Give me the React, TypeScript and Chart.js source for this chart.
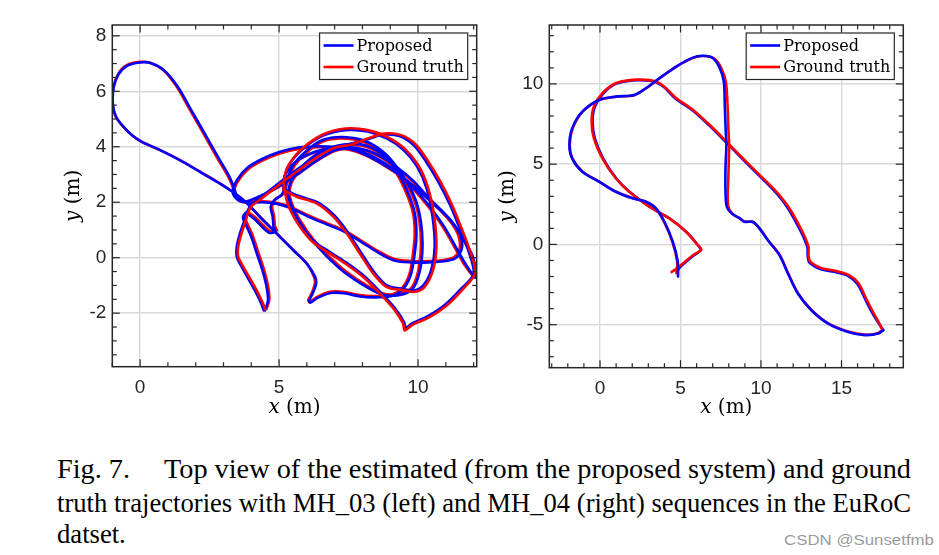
import React, { useEffect, useLayoutEffect, useRef } from 'react';
import { Chart, registerables } from 'chart.js';

Chart.register(...registerables);

type Pt = [number, number];

// ---------------- labels ----------------
const seriesLabels = ['Proposed', 'Ground truth'];
const seriesColors = ['#0000ff', '#ff0000'];
const xTitleLetter = 'x';
const yTitleLetter = 'y';
const unitText = ' (m)';
const captionLines = [
  'Fig. 7.\u2003\u2009Top view of the estimated (from the proposed system) and ground',
  'truth trajectories with MH_03 (left) and MH_04 (right) sequences in the EuRoC',
  'datset.',
];
const watermark = 'CSDN @Sunsetfmb';

// ---------------- MH_03 (left) ----------------
const leftXTicks = [0, 5, 10];
const leftYTicks = [-2, 0, 2, 4, 6, 8];

const leftTruthA: Pt[] = [
  [4.5,-1.85],[4.4,-1.6],[4.19,-1.17],[3.95,-0.74],[3.71,-0.32],[3.53,0.04],[3.53,0.4],[3.65,0.88],[3.77,1.24],[3.88,1.6],[4.0,1.85],
  [4.35,2.12],[4.9,2.55],[5.6,3.08],[6.3,3.58],[6.95,3.95],[7.6,4.08],
  [8.25,4.32],[8.8,4.48],[9.4,4.42],[9.9,4.1],[10.35,3.5],[10.8,2.75],[11.2,1.95],[11.55,1.1],[11.85,0.3],[12.05,-0.55],
  [11.6,-1.15],[11.0,-1.75],[10.4,-2.15],[9.8,-2.42],[9.52,-2.62],[9.46,-2.37],[9.16,-1.89],[8.68,-1.35],[8.08,-0.74],[7.37,-0.2],[6.75,0.2],[6.23,0.55],[5.75,1.12],[5.4,1.72],[5.22,2.3],[5.18,2.8],
  [5.35,3.35],[5.85,3.95],[6.6,4.45],[7.4,4.66],[8.2,4.6],[8.9,4.35],[9.5,3.95],[10.0,3.35],[10.35,2.55],[10.58,1.5],[10.66,0.4],[10.54,-0.44],[10.24,-1.05],[9.88,-1.23],[9.46,-1.17],[8.86,-1.05],[8.38,-0.56],[7.9,0.16],[7.43,0.88],[6.95,1.48],[6.35,1.96],[5.63,2.2],[5.15,2.44],
];
const leftProposedA: Pt[] = [
  [4.45,-1.9],[4.35,-1.63],[4.14,-1.2],[3.9,-0.77],[3.66,-0.34],[3.48,0.03],[3.48,0.41],[3.6,0.9],[3.73,1.27],[3.85,1.63],[3.97,1.88],
  [4.32,2.16],[4.88,2.6],[5.58,3.13],[6.28,3.62],[6.93,3.99],[7.58,4.11],
  [8.22,4.28],[8.76,4.44],[9.36,4.38],[9.85,4.05],[10.29,3.46],[10.74,2.72],[11.14,1.93],[11.49,1.08],[11.8,0.28],[12.0,-0.58],
  [11.56,-1.11],[10.97,-1.7],[10.37,-2.1],[9.8,-2.36],[9.56,-2.52],[9.5,-2.33],[9.2,-1.86],[8.72,-1.32],[8.12,-0.71],[7.41,-0.17],[6.79,0.23],[6.27,0.58],[5.79,1.15],[5.44,1.75],[5.26,2.32],[5.2,2.82],
  [5.33,3.3],[5.83,3.9],[6.58,4.4],[7.38,4.6],[8.18,4.55],[8.87,4.3],[9.46,3.9],[9.95,3.31],[10.3,2.52],[10.52,1.48],[10.6,0.4],[10.48,-0.42],[10.19,-1.0],[9.86,-1.18],[9.46,-1.13],[8.88,-1.0],[8.42,-0.52],[7.94,0.2],[7.47,0.92],[6.99,1.52],[6.38,2.0],[5.66,2.24],[5.17,2.48],
];
const leftTruthB: Pt[] = [
  [5.15,2.44],[5.2,2.95],[5.6,3.45],[6.3,3.8],[7.0,3.95],[7.8,3.92],[8.5,3.7],[9.2,3.25],[9.8,2.75],[10.3,2.2],[10.8,1.7],[11.2,1.25],[11.45,0.8],[11.5,0.35],[11.3,0.02],[10.95,-0.08],[10.35,-0.12],[9.75,-0.12],[9.15,-0.05],[8.55,0.25],[7.95,0.62],[7.35,0.98],[6.7,1.25],[6.0,1.55],[5.4,1.84],
  [4.9,1.98],[4.4,2.03],[3.9,2.02],[3.55,2.12],[3.38,2.38],[3.55,2.8],[3.9,3.2],[4.4,3.5],[5.0,3.75],[5.7,3.92],[6.4,3.98],[7.1,3.95],[7.7,3.85],[8.3,3.6],[8.9,3.25],[9.5,2.85],[10.1,2.35],[10.7,1.8],[11.2,1.3],[11.6,0.7],[11.95,0.0],[12.05,-0.7],
  [11.7,-0.3],[11.3,0.4],[10.9,1.1],[10.4,1.8],[9.8,2.5],[9.1,3.15],[8.4,3.6],[7.6,3.9],[7.0,3.85],[6.3,3.45],[5.6,2.95],[4.9,2.5],[4.2,2.15],[3.75,2.0],[3.5,2.1],
  [3.35,2.5],[3.17,2.92],[2.75,3.64],[2.28,4.48],[1.8,5.32],[1.32,6.16],[0.84,6.76],[0.36,7.03],[0.0,7.06],[-0.48,6.94],[-0.78,6.64],[-0.96,6.16],[-0.99,5.56],[-0.9,5.14],[-0.66,4.78],[-0.3,4.42],[0.06,4.18],[0.72,3.88],[1.44,3.52],[2.16,3.1],[2.87,2.68],[3.47,2.28],[3.83,1.98],
  [4.31,1.48],[4.91,0.88],[5.51,0.28],[5.99,-0.2],[6.25,-0.68],[6.29,-0.92],[6.17,-1.29],[6.05,-1.53],[6.1,-1.6],[6.35,-1.42],[6.83,-1.23],[7.31,-1.23],[7.9,-1.35],[8.5,-1.38],[9.1,-1.31],[9.46,-1.05],[9.7,-0.56],[9.82,0.16],[9.88,0.88],[9.82,1.6],[9.58,2.32],[9.22,3.04],[8.74,3.64],[8.14,4.0],[7.54,4.06],[6.95,3.94],[6.3,3.65],[5.8,3.2],[5.45,2.7],[5.39,2.2],[5.75,1.36],[6.35,0.52],[7.19,-0.32],[8.02,-0.92],[8.74,-1.29],[9.3,-1.3],[9.75,-1.1],[10.0,-0.5],[10.1,0.4],[10.05,1.3],[9.85,2.1],[9.4,2.95],[8.8,3.7],[8.1,4.15],[7.3,4.3],[6.6,4.2],[6.0,3.8],[5.55,3.3],[5.3,2.7],[5.15,2.3],[4.85,2.1],[4.75,1.85],[4.82,1.5],[4.85,1.15],[4.92,0.98],[4.7,0.95],[4.45,1.15],[4.15,1.45],[3.85,1.65],[3.75,1.5],[3.85,1.25],[4.05,0.8],[4.25,0.2],[4.45,-0.4],[4.6,-1.0],[4.65,-1.5],[4.55,-1.85],
];
const leftProposedB: Pt[] = [
  [5.17,2.48],[5.22,2.98],[5.62,3.48],[6.32,3.83],[7.02,3.98],[7.82,3.95],[8.52,3.73],[9.22,3.28],[9.82,2.78],[10.32,2.23],[10.82,1.73],[11.24,1.28],[11.52,0.82],[11.58,0.36],[11.36,-0.01],[10.98,-0.12],[10.36,-0.17],[9.75,-0.17],[9.14,-0.1],[8.54,0.2],[7.94,0.58],[7.34,0.94],[6.69,1.21],[5.99,1.51],[5.39,1.8],
  [4.89,1.95],[4.39,2.0],[3.89,1.98],[3.52,2.08],[3.33,2.36],[3.5,2.82],[3.86,3.24],[4.37,3.55],[4.98,3.8],[5.68,3.97],[6.38,4.02],[7.08,3.99],[7.68,3.88],[8.28,3.63],[8.88,3.28],[9.48,2.88],[10.08,2.38],[10.68,1.83],[11.18,1.33],[11.6,0.72],[11.98,0.02],[12.08,-0.72],
  [11.74,-0.28],[11.34,0.42],[10.94,1.12],[10.44,1.82],[9.84,2.52],[9.14,3.17],[8.44,3.62],[7.64,3.92],[7.02,3.88],[6.32,3.48],[5.62,2.98],[4.92,2.53],[4.22,2.18],[3.77,2.03],[3.52,2.14],
  [3.38,2.52],[3.2,2.95],[2.78,3.67],[2.31,4.5],[1.83,5.34],[1.35,6.17],[0.86,6.76],[0.37,7.02],[0.0,7.04],[-0.47,6.92],[-0.77,6.62],[-0.95,6.14],[-0.98,5.54],[-0.88,5.12],[-0.64,4.77],[-0.28,4.41],[0.08,4.17],[0.74,3.87],[1.46,3.5],[2.18,3.08],[2.89,2.66],[3.49,2.26],[3.85,1.96],
  [4.33,1.45],[4.93,0.85],[5.53,0.25],[6.01,-0.23],[6.3,-0.7],[6.33,-0.95],[6.2,-1.31],[6.08,-1.55],[6.13,-1.62],[6.38,-1.45],[6.86,-1.27],[7.34,-1.28],[7.92,-1.4],[8.5,-1.43],[9.12,-1.36],[9.5,-1.08],[9.75,-0.58],[9.88,0.15],[9.94,0.88],[9.88,1.61],[9.64,2.34],[9.27,3.07],[8.78,3.68],[8.16,4.04],[7.55,4.1],[6.94,3.98],[6.28,3.68],[5.77,3.22],[5.41,2.71],[5.35,2.2],[5.71,1.34],[6.31,0.49],[7.15,-0.36],[7.99,-0.96],[8.72,-1.33],[9.3,-1.35],[9.8,-1.13],[10.06,-0.5],[10.16,0.4],[10.1,1.32],[9.9,2.12],[9.44,2.98],[8.83,3.74],[8.12,4.2],[7.3,4.35],[6.58,4.25],[5.97,3.84],[5.5,3.32],[5.25,2.7],[5.1,2.28],[4.82,2.06],[4.7,1.82],[4.77,1.47],[4.8,1.12],[4.87,0.94],[4.65,0.9],[4.4,1.1],[4.1,1.4],[3.8,1.6],[3.7,1.45],[3.8,1.2],[4.0,0.75],[4.2,0.15],[4.4,-0.45],[4.55,-1.05],[4.6,-1.55],[4.49,-1.9],
];

// ---------------- MH_04 (right) ----------------
const rightXTicks = [0, 5, 10, 15];
const rightYTicks = [-5, 0, 5, 10];

const rightTruthA: Pt[] = [
  [4.75,-1.8],[4.8,-1.1],[4.5,0.15],[3.98,1.4],[3.45,2.25],[2.82,2.68],[2.0,2.9],[0.96,3.3],[-0.08,3.93],[-1.1,4.55],[-1.72,5.36],[-1.88,6.2],[-1.7,7.22],[-1.08,8.27],[-0.05,9.0],[0.98,9.2],[2.12,9.3],[2.85,9.72],[3.7,10.35],[4.75,11.08],[5.8,11.62],[6.45,11.74],[7.1,11.58],[7.55,10.95],[7.82,10.1],[7.92,8.7],[7.98,7.05],[8.02,6.2],[7.98,4.5],[7.95,2.45],[8.22,1.92],[8.72,1.6],[8.98,1.42],[9.5,1.4],[9.92,1.0],[10.45,0.25],[11.18,-0.68],[11.7,-1.82],[12.32,-3.07],[13.15,-4.1],[14.18,-4.92],[15.42,-5.43],[16.45,-5.62],[17.2,-5.55],[17.55,-5.35],
];
const rightProposedA: Pt[] = [
  [4.85,-2.0],[4.83,-1.08],[4.52,0.17],[4.0,1.41],[3.48,2.25],[2.85,2.66],[2.02,2.87],[0.98,3.28],[-0.06,3.91],[-1.1,4.53],[-1.73,5.36],[-1.9,6.2],[-1.73,7.23],[-1.1,8.27],[-0.06,9.0],[0.98,9.21],[2.13,9.31],[2.85,9.73],[3.69,10.35],[4.73,11.08],[5.77,11.64],[6.4,11.75],[7.02,11.6],[7.44,10.98],[7.69,10.15],[7.75,8.69],[7.81,7.03],[7.85,6.2],[7.79,4.53],[7.85,2.45],[8.17,1.93],[8.69,1.62],[8.96,1.41],[9.48,1.41],[9.9,1.0],[10.42,0.27],[11.15,-0.67],[11.67,-1.81],[12.29,-3.06],[13.13,-4.1],[14.17,-4.93],[15.42,-5.45],[16.46,-5.65],[17.29,-5.55],[17.6,-5.34],
];
const rightTruthB: Pt[] = [
  [17.55,-5.35],[17.3,-4.82],[16.9,-4.1],[16.48,-3.26],[16.06,-2.42],[15.44,-1.9],[14.6,-1.64],[13.77,-1.48],[13.05,-1.06],[12.95,-0.65],[12.95,-0.14],[12.52,0.9],[11.69,2.36],[10.85,3.4],[9.8,4.44],[8.76,5.48],[7.86,6.4],[6.82,7.44],[5.78,8.38],[4.74,9.11],[4.0,9.83],[3.48,10.15],[2.85,10.25],[2.02,10.25],[0.98,10.04],[0.15,9.42],[-0.38,8.59],[-0.52,7.65],[-0.38,6.61],[0.15,5.36],[0.98,4.12],[1.81,3.28],[3.06,2.35],[4.31,1.62],[5.35,0.79],[5.98,0.06],[6.29,-0.33],[5.77,-0.67],[5.15,-1.19],[4.63,-1.6],[4.45,-1.72],
];
const rightProposedB: Pt[] = [
  [17.6,-5.34],[17.27,-4.85],[16.85,-4.15],[16.42,-3.3],[16.0,-2.48],[15.38,-1.95],[14.55,-1.7],[13.72,-1.55],[13.0,-1.12],[12.9,-0.7],[12.88,-0.18],[12.45,0.85],[11.63,2.32],[10.8,3.36],[9.76,4.41],[8.72,5.46],[7.82,6.38],[6.78,7.42],[5.74,8.36],[4.7,9.08],[3.97,9.8],[3.45,10.12],[2.83,10.22],[2.0,10.22],[0.97,10.0],[0.18,9.38],[-0.33,8.56],[-0.46,7.63],[-0.32,6.6],[0.2,5.35],[1.02,4.1],[1.85,3.26],[3.1,2.33],[4.35,1.6],[5.38,0.76],[6.02,0.03],[6.25,-0.36],[5.8,-0.7],[5.18,-1.22],[4.9,-1.5],[4.8,-1.7],
];

// ---------------- panel setup ----------------
interface PanelCfg {
  left: number; top: number; w: number; h: number;
  yAxisW: number; xAxisH: number; padTop: number; padRight: number;
  xMin: number; xMax: number; yMin: number; yMax: number;
  xTicks: number[]; yTicks: number[]; xMinor: number; yMinor: number;
  yTitleX: number; xTitleDy: number;
  truthA: Pt[]; propA: Pt[]; truthB: Pt[]; propB: Pt[];
  redTopA: boolean;
}

const panels: PanelCfg[] = [
  {
    left: 40, top: 15, w: 450, h: 410,
    yAxisW: 72.3, xAxisH: 58.3, padTop: 10, padRight: 13.3,
    xMin: -1.0, xMax: 12.11, yMin: -3.93, yMax: 8.39,
    xTicks: leftXTicks, yTicks: leftYTicks, xMinor: 1, yMinor: 0.5,
    yTitleX: 34, xTitleDy: 41.5,
    truthA: leftTruthA, propA: leftProposedA, truthB: leftTruthB, propB: leftProposedB,
    redTopA: true,
  },
  {
    left: 490, top: 15, w: 440, h: 410,
    yAxisW: 59.3, xAxisH: 57.3, padTop: 10, padRight: 26.7,
    xMin: -3.15, xMax: 18.84, yMin: -7.68, yMax: 13.67,
    xTicks: rightXTicks, yTicks: rightYTicks, xMinor: 1, yMinor: 1,
    yTitleX: 18, xTitleDy: 40.5,
    truthA: rightTruthA, propA: rightProposedA, truthB: rightTruthB, propB: rightProposedB,
    redTopA: false,
  },
];

const AXIS_COLOR = '#262626';
const TICK_FONT = '"Liberation Sans", Arial, sans-serif';
const SERIF = '"DejaVu Serif", serif';

function makeDataset(label: string, pts: Pt[], color: string, order: number) {
  return {
    label,
    data: pts.map(([x, y]) => ({ x, y })),
    showLine: true,
    borderColor: color,
    backgroundColor: color,
    borderWidth: 2.6,
    pointRadius: 0,
    pointHoverRadius: 0,
    tension: 0.3,
    order,
    fill: false,
    borderJoinStyle: 'round' as const,
    borderCapStyle: 'round' as const,
  };
}

function framePlugin(c: PanelCfg) {
  return {
    id: 'frameDecor',
    afterDraw(chart: any) {
      const { ctx, chartArea: a, scales } = chart;
      const xs = scales.x;
      const ys = scales.y;
      ctx.save();
      const line = (x1: number, y1: number, x2: number, y2: number) => {
        ctx.beginPath(); ctx.moveTo(x1, y1); ctx.lineTo(x2, y2); ctx.stroke();
      };
      ctx.strokeStyle = AXIS_COLOR;
      ctx.lineWidth = 1.2;
      const MAJ = 7.5, MIN = 4.5;
      const isMaj = (arr: number[], v: number) => arr.some((t) => Math.abs(t - v) < 1e-6);
      for (let i = Math.ceil(c.xMin / c.xMinor); i * c.xMinor <= c.xMax + 1e-9; i++) {
        const v = i * c.xMinor;
        const p = xs.getPixelForValue(v);
        const len = isMaj(c.xTicks, v) ? MAJ : MIN;
        line(p, a.bottom, p, a.bottom - len);
        line(p, a.top, p, a.top + len);
      }
      for (let i = Math.ceil(c.yMin / c.yMinor); i * c.yMinor <= c.yMax + 1e-9; i++) {
        const v = i * c.yMinor;
        const p = ys.getPixelForValue(v);
        const len = isMaj(c.yTicks, v) ? MAJ : MIN;
        line(a.left, p, a.left + len, p);
        line(a.right, p, a.right - len, p);
      }
      ctx.lineWidth = 1.5;
      ctx.strokeRect(a.left, a.top, a.right - a.left, a.bottom - a.top);

      // legend
      ctx.font = `16px ${SERIF}`;
      const tw = Math.max(...seriesLabels.map((l) => ctx.measureText(l).width));
      const bw = 4 + 30 + 3 + tw + 4;
      const bh = 46.5;
      const bx = a.right - 9 - bw;
      const by = a.top + 8;
      ctx.fillStyle = '#ffffff';
      ctx.fillRect(bx, by, bw, bh);
      ctx.strokeStyle = AXIS_COLOR;
      ctx.lineWidth = 1.2;
      ctx.strokeRect(bx, by, bw, bh);
      const rows = [by + 12.5, by + 34];
      seriesLabels.forEach((lab, i) => {
        ctx.strokeStyle = seriesColors[i];
        ctx.lineWidth = 2.6;
        line(bx + 4, rows[i], bx + 34, rows[i]);
        ctx.fillStyle = '#000000';
        ctx.textBaseline = 'middle';
        ctx.textAlign = 'left';
        ctx.fillText(lab, bx + 37, rows[i] + 1);
      });

      // axis titles
      const drawTitle = (letter: string, cx: number, cy: number, rot: number) => {
        ctx.save();
        ctx.translate(cx, cy);
        ctx.rotate(rot);
        ctx.font = `italic 20px ${SERIF}`;
        const w1 = ctx.measureText(letter).width;
        ctx.font = `20px ${SERIF}`;
        const w2 = ctx.measureText(unitText).width;
        const start = -(w1 + w2) / 2;
        ctx.fillStyle = '#000000';
        ctx.textBaseline = 'middle';
        ctx.textAlign = 'left';
        ctx.font = `italic 20px ${SERIF}`;
        ctx.fillText(letter, start, 0);
        ctx.font = `20px ${SERIF}`;
        ctx.fillText(unitText, start + w1, 0);
        ctx.restore();
      };
      drawTitle(xTitleLetter, (a.left + a.right) / 2, a.bottom + c.xTitleDy, 0);
      drawTitle(yTitleLetter, c.yTitleX, (a.top + a.bottom) / 2, -Math.PI / 2);
      ctx.restore();
    },
  };
}

function Panel({ c }: { c: PanelCfg }) {
  const ref = useRef<HTMLCanvasElement>(null);
  useEffect(() => {
    const oTop = 0, oTop2 = 1, oBot = 2, oBot2 = 3;
    const datasets = [
      makeDataset(seriesLabels[0], c.propA, seriesColors[0], c.redTopA ? oBot : oTop),
      makeDataset(seriesLabels[1], c.truthA, seriesColors[1], c.redTopA ? oTop : oBot),
      makeDataset(seriesLabels[0], c.propB, seriesColors[0], c.redTopA ? oTop2 : oBot2),
      makeDataset(seriesLabels[1], c.truthB, seriesColors[1], c.redTopA ? oBot2 : oTop2),
    ];
    const chart = new Chart(ref.current as HTMLCanvasElement, {
      type: 'scatter',
      data: { datasets } as any,
      options: {
        responsive: false,
        animation: false,
        events: [],
        layout: { padding: { top: c.padTop, right: c.padRight, left: 0, bottom: 0 } },
        plugins: { legend: { display: false }, tooltip: { enabled: false }, title: { display: false } },
        scales: {
          x: {
            type: 'linear', position: 'bottom', min: c.xMin, max: c.xMax,
            afterBuildTicks: (s: any) => { s.ticks = c.xTicks.map((v) => ({ value: v })); },
            afterFit: (s: any) => { s.height = c.xAxisH; s.paddingLeft = 0; s.paddingRight = 0; },
            grid: { color: '#d9d9d9', lineWidth: 1.4, drawTicks: false },
            border: { display: false },
            ticks: {
              padding: 10, color: AXIS_COLOR, autoSkip: false, maxRotation: 0,
              font: { family: TICK_FONT, size: 19 },
              callback: (v: any) => String(v),
            },
          },
          y: {
            type: 'linear', position: 'left', min: c.yMin, max: c.yMax,
            afterBuildTicks: (s: any) => { s.ticks = c.yTicks.map((v) => ({ value: v })); },
            afterFit: (s: any) => { s.width = c.yAxisW; s.paddingTop = 0; s.paddingBottom = 0; },
            grid: { color: '#d9d9d9', lineWidth: 1.4, drawTicks: false },
            border: { display: false },
            ticks: {
              padding: 6, color: AXIS_COLOR, autoSkip: false,
              font: { family: TICK_FONT, size: 19 },
              callback: (v: any) => String(v),
            },
          },
        },
      } as any,
      plugins: [framePlugin(c)],
    });
    return () => chart.destroy();
  }, [c]);
  return (
    <canvas
      ref={ref}
      width={c.w}
      height={c.h}
      style={{ position: 'absolute', left: c.left, top: c.top, width: c.w, height: c.h }}
    />
  );
}

function Caption() {
  const r0 = useRef<HTMLDivElement>(null);
  const r1 = useRef<HTMLDivElement>(null);
  const r2 = useRef<HTMLDivElement>(null);
  const wm = useRef<HTMLDivElement>(null);
  useLayoutEffect(() => {
    const target = 854;
    const fit = (el: HTMLDivElement | null, w: number) => {
      if (!el) return 1;
      const nat = el.getBoundingClientRect().width;
      const s = w / nat;
      el.style.transform = `scaleX(${s})`;
      return s;
    };
    fit(r0.current, target);
    const s2 = fit(r1.current, target);
    if (r2.current) r2.current.style.transform = `scaleX(${s2})`;
    fit(wm.current, 150);
  }, []);
  const base: React.CSSProperties = {
    position: 'absolute', left: 57, whiteSpace: 'pre', fontFamily: '"Liberation Serif", "Times New Roman", serif',
    fontSize: 28, lineHeight: '32px', color: '#000', transformOrigin: 'left top',
  };
  return (
    <>
      <div ref={r0} style={{ ...base, top: 453 }}>{captionLines[0]}</div>
      <div ref={r1} style={{ ...base, top: 487 }}>{captionLines[1]}</div>
      <div ref={r2} style={{ ...base, top: 518 }}>{captionLines[2]}</div>
      <div
        ref={wm}
        style={{
          position: 'absolute', left: 784, top: 531, whiteSpace: 'pre', fontFamily: '"Liberation Sans", Arial, sans-serif',
          fontSize: 14, lineHeight: '18px', color: '#9a9a9a', transformOrigin: 'left top',
        }}
      >
        {watermark}
      </div>
    </>
  );
}

export default function App() {
  return (
    <div style={{ position: 'absolute', left: 0, top: 0, width: 939, height: 555, background: '#fff', overflow: 'hidden' }}>
      {panels.map((c, i) => (
        <Panel key={i} c={c} />
      ))}
      <Caption />
    </div>
  );
}
